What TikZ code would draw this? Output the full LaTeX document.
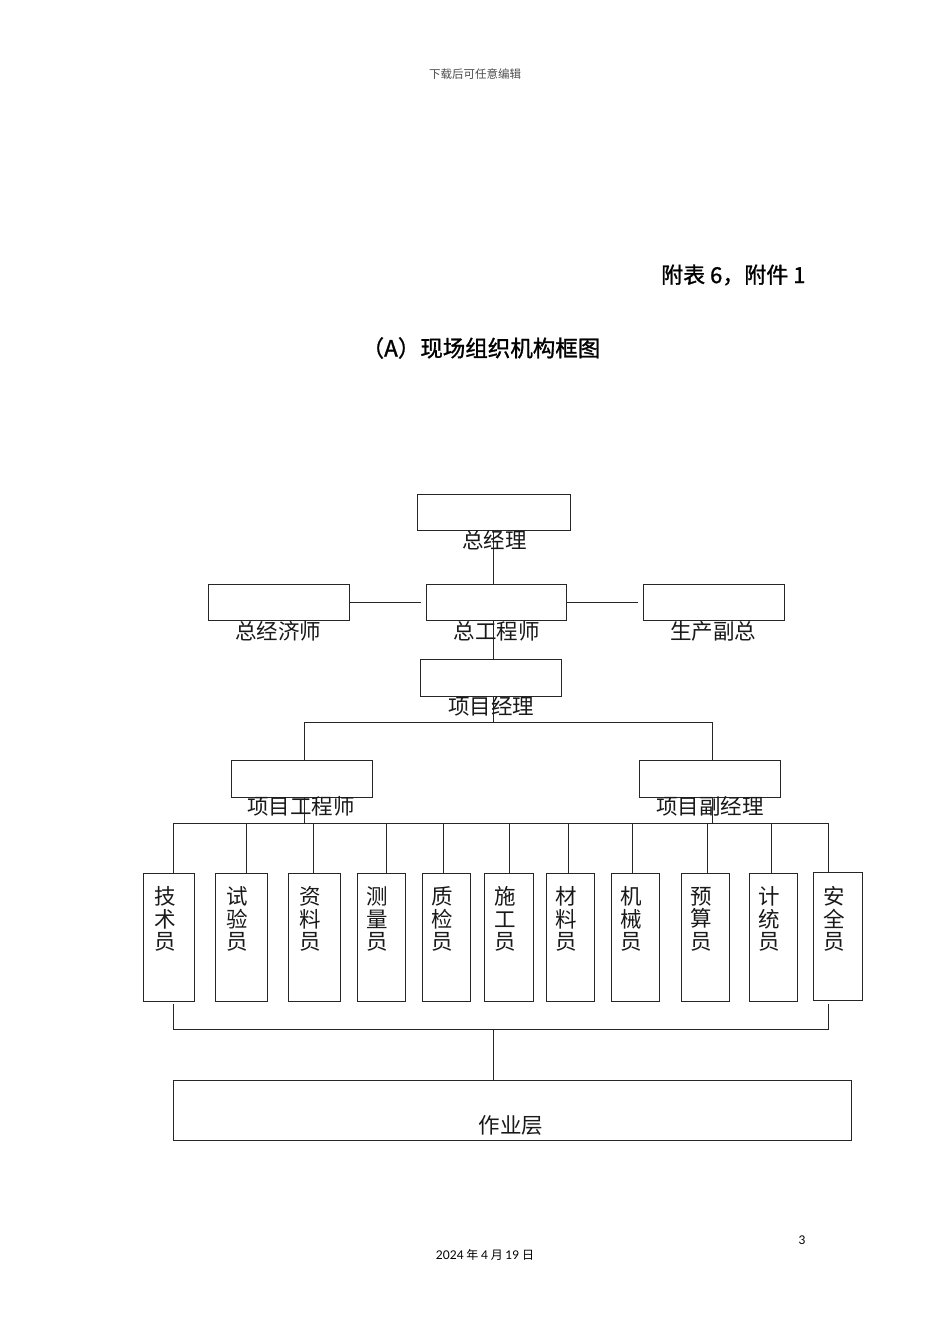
\documentclass[tikz,border=0pt]{standalone}
\usepackage{fontspec}
\setmainfont{Noto Sans CJK SC}
\newfontfamily\semibold{Noto Sans CJK SC}[FakeBold=1.2]
\newfontfamily\latofont{Lato}
\begin{document}
\begin{tikzpicture}[x=1pt,y=-1pt,
  box/.style={draw=black!85,line width=0.9pt,rectangle,inner sep=0pt,fill=white},
  lbl/.style={font=\fontsize{21.5}{22}\selectfont,inner sep=0pt,text=black!90},
  vlbl/.style={font=\fontsize{21.5}{22.5}\selectfont,inner sep=0pt,align=center,text=black!90},
  conn/.style={draw=black!85,line width=0.9pt}]
\useasboundingbox (0,0) rectangle (950,1344);
% header / titles
\node[font=\fontsize{11.5}{12}\selectfont,text=black!70] (hdr) at (475,74) {下载后可任意编辑};
\node[font=\semibold\fontsize{22}{24}\selectfont,anchor=east] (fb) at (809,275) {附表 6，附件 1};
\node[font=\semibold\fontsize{22.5}{24}\selectfont] (title) at (481,348) {（A）现场组织机构框图};
% top boxes
\node[box,minimum width=153pt,minimum height=36pt] (zjl) at (493.5,512) {};
\node[box,minimum width=141pt,minimum height=36pt] (zjjs) at (278.5,602) {};
\node[box,minimum width=140pt,minimum height=36pt] (zgcs) at (496,602) {};
\node[box,minimum width=141pt,minimum height=36pt] (scfz) at (713.5,602) {};
\node[box,minimum width=141pt,minimum height=37pt] (xmjl) at (490.5,677.5) {};
\node[box,minimum width=141pt,minimum height=37pt] (xmgcs) at (301.5,778.5) {};
\node[box,minimum width=141pt,minimum height=37pt] (xmfjl) at (709.5,778.5) {};
\node[box,minimum width=678pt,minimum height=60pt] (zyc) at (512,1110) {};
% connectors top
\coordinate (a0) at (493,0);
\draw[conn] (zjl.south -| a0) -- (zgcs.north -| a0);
\draw[conn] (zgcs.south -| a0) -- (xmjl.north -| a0);
\draw[conn] (zjjs.east) -- ([xshift=-5pt]zgcs.west);
\draw[conn] (zgcs.east) -- ([xshift=-5pt]scfz.west);
\coordinate (bt) at (493,722);
\coordinate (bl) at (304,722);
\coordinate (br) at (712,722);
\draw[conn] (xmjl.south -| bt) -- (bt);
\draw[conn] (bl) -- (br);
\draw[conn] (bl) -- (bl |- xmgcs.north);
\draw[conn] (br) -- (br |- xmfjl.north);
\coordinate (m1) at (304,823);
\coordinate (m2) at (712,823);
\draw[conn] (xmgcs.south -| m1) -- (m1);
\draw[conn] (xmfjl.south -| m2) -- (m2);
% labels of top boxes
\node[lbl] (zjlL) at (494.5,540) {总经理};
\node[lbl] (zjjsL) at (278,631) {总经济师};
\node[lbl] (zgcsL) at (496.5,631) {总工程师};
\node[lbl] (scfzL) at (713,631) {生产副总};
\node[lbl] (xmjlL) at (491,706) {项目经理};
\node[lbl] (xmgcsL) at (301,806) {项目工程师};
\node[lbl] (xmfjlL) at (710,806) {项目副经理};
% staff boxes
\foreach \i/\cx/\cy/\w/\dx/\t in {
  1/168.5/937/51/173/技\\术\\员,
  2/241/937/52/246/试\\验\\员,
  3/314/937/52/313/资\\料\\员,
  4/381/937/48/386/测\\量\\员,
  5/446/937/48/443/质\\检\\员,
  6/508.5/937/49/509/施\\工\\员,
  7/570/937/48/568/材\\料\\员,
  8/635/937/48/632/机\\械\\员,
  9/705/937/48/707/预\\算\\员,
  10/773/937/48/771/计\\统\\员,
  11/837.5/936/49/828/安\\全\\员}{
  \node[box,minimum width=\w pt,minimum height=128pt] (b\i) at (\cx,\cy) {};
  \node[vlbl] (t\i) at ([xshift=-3.5pt]b\i.north |- 0,919) {\t};
  \coordinate (d\i) at (\dx,823);
  \draw[conn] (d\i) -- (d\i |- b\i.north);
}
\draw[conn] (d1) -- (d11);
% bottom bus
\coordinate (s1) at (173,1004);
\coordinate (s11) at (828,1004);
\coordinate (e1) at (173,1029);
\coordinate (e11) at (828,1029);
\coordinate (ec) at (493,1029);
\draw[conn] (s1) -- (e1) -- (e11) -- (s11);
\draw[conn] (ec) -- (ec |- zyc.north);
\node[lbl] (zycL) at (511,1125) {作业层};
% footer
\node[font=\latofont\fontsize{12}{13}\selectfont] (pg) at (802,1240) {3};
\node[font=\fontsize{12}{13}\selectfont] (dt) at (485,1255) {{\latofont 2024} 年 {\latofont 4} 月 {\latofont 19} 日};
\end{tikzpicture}
\end{document}
